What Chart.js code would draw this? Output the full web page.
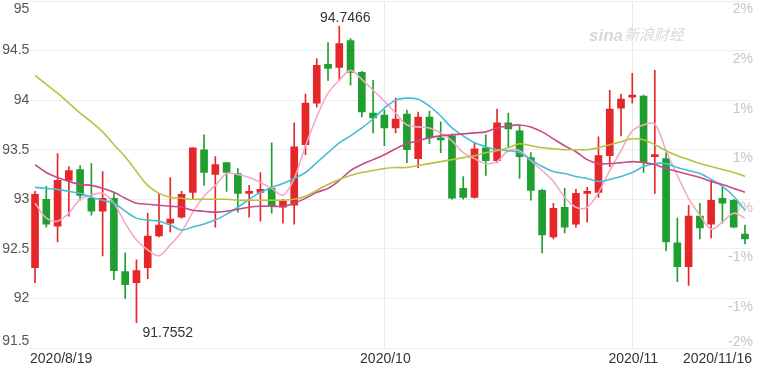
<!DOCTYPE html>
<html><head><meta charset="utf-8">
<script src="https://cdn.jsdelivr.net/npm/chart.js@4.4.1/dist/chart.umd.min.js"></script>
<style>html,body{margin:0;padding:0;background:#fff;overflow:hidden}#wrap{position:relative;width:760px;height:366px}</style>
</head><body><div id="wrap"><canvas id="c"></canvas></div>
<script>
const dates = ['2020/8/19','2020/8/20','2020/8/21','2020/8/24','2020/8/25','2020/8/26','2020/8/27','2020/8/28','2020/8/31',
'2020/9/1','2020/9/2','2020/9/3','2020/9/4','2020/9/7','2020/9/8','2020/9/9','2020/9/10','2020/9/11','2020/9/14','2020/9/15','2020/9/16','2020/9/17','2020/9/18','2020/9/21','2020/9/22','2020/9/23','2020/9/24','2020/9/25','2020/9/28','2020/9/29','2020/9/30',
'2020/10/1','2020/10/2','2020/10/5','2020/10/6','2020/10/7','2020/10/8','2020/10/9','2020/10/12','2020/10/13','2020/10/14','2020/10/15','2020/10/16','2020/10/19','2020/10/20','2020/10/21','2020/10/22','2020/10/23','2020/10/26','2020/10/27','2020/10/28','2020/10/29','2020/10/30',
'2020/11/2','2020/11/3','2020/11/4','2020/11/5','2020/11/6','2020/11/9','2020/11/10','2020/11/11','2020/11/12','2020/11/13','2020/11/16'];

const openV  = [92.31,93.00,92.73,93.19,93.30,93.01,92.88,93.01,92.27,92.16,92.31,92.63,92.76,92.82,93.07,93.50,93.25,93.37,93.26,93.06,93.07,93.11,92.92,92.94,93.55,93.97,94.36,94.33,94.60,94.28,93.87,93.85,93.72,93.86,93.41,93.83,93.62,93.64,93.11,93.02,93.52,93.39,93.77,93.69,93.42,93.09,92.62,92.92,92.75,93.06,93.07,93.44,93.92,94.03,94.04,93.43,93.41,92.56,92.32,92.83,92.75,93.01,92.99,92.65];
const highV  = [93.08,93.13,93.46,93.33,93.34,93.36,93.28,93.07,92.46,92.39,92.86,93.06,93.22,93.08,93.52,93.65,93.43,93.37,93.31,93.14,93.27,93.57,93.00,93.77,94.06,94.42,94.58,94.7466,94.62,94.29,94.20,93.90,94.02,93.90,93.88,93.89,93.78,93.66,93.23,93.57,93.65,93.91,93.87,93.74,93.47,93.10,92.96,93.11,93.10,93.12,93.63,94.10,94.06,94.27,94.05,94.30,93.47,92.81,92.94,92.96,93.20,93.12,93.00,92.74];
const lowV   = [92.16,92.72,92.57,92.83,92.99,92.84,92.43,92.19,92.00,91.7552,92.20,92.62,92.67,92.81,93.00,93.14,92.72,93.08,92.87,92.82,92.78,92.86,92.76,92.75,93.45,93.93,94.20,94.20,94.15,93.83,93.67,93.54,93.67,93.37,93.32,93.56,93.47,93.00,93.00,93.01,93.24,93.37,93.52,93.21,92.99,92.46,92.60,92.66,92.72,92.77,93.02,93.33,93.64,93.97,93.27,93.06,92.48,92.17,92.13,92.60,92.61,92.76,92.71,92.55];
const closeV = [93.05,92.75,93.19,93.29,93.04,92.88,93.01,92.28,92.14,92.28,92.63,92.74,92.80,93.05,93.52,93.27,93.35,93.27,93.06,93.08,93.10,92.93,92.98,93.53,93.97,94.35,94.32,94.57,94.28,93.88,93.82,93.72,93.81,93.50,93.83,93.62,93.60,93.01,93.02,93.51,93.39,93.77,93.71,93.43,93.09,92.64,92.91,92.72,93.06,93.08,93.44,93.91,94.01,94.04,93.37,93.44,92.57,92.32,92.83,92.71,92.99,92.96,92.72,92.60];

const ma5  = [92.96,92.81,92.78,92.86,93.00,93.04,93.06,92.96,92.76,92.59,92.49,92.43,92.54,92.67,92.87,93.03,93.14,93.26,93.25,93.22,93.17,93.11,93.04,93.21,93.54,93.83,94.07,94.20,94.30,94.21,94.10,93.99,93.87,93.75,93.73,93.72,93.67,93.59,93.47,93.41,93.36,93.38,93.49,93.49,93.39,93.29,93.18,93.02,92.92,92.92,93.07,93.29,93.49,93.69,93.75,93.76,93.49,93.24,93.01,92.84,92.70,92.77,92.86,92.81];
const ma10 = [93.12,93.11,93.10,93.08,93.06,93.02,92.99,92.96,92.88,92.81,92.79,92.78,92.74,92.69,92.72,92.75,92.79,92.85,92.92,93.00,93.07,93.12,93.16,93.21,93.27,93.37,93.47,93.57,93.64,93.72,93.81,93.92,94.00,94.02,94.01,93.94,93.84,93.72,93.64,93.57,93.53,93.50,93.49,93.47,93.40,93.33,93.28,93.26,93.23,93.21,93.18,93.20,93.23,93.27,93.33,93.36,93.36,93.32,93.29,93.26,93.20,93.13,93.03,92.89];
const ma20 = [93.35,93.27,93.22,93.18,93.15,93.14,93.11,93.07,93.01,92.96,92.95,92.94,92.93,92.92,92.89,92.88,92.87,92.88,92.90,92.92,92.93,92.93,92.93,92.96,93.01,93.07,93.11,93.19,93.29,93.35,93.40,93.45,93.51,93.56,93.59,93.62,93.64,93.65,93.66,93.67,93.68,93.72,93.74,93.75,93.73,93.68,93.61,93.54,93.48,93.40,93.36,93.36,93.37,93.38,93.37,93.35,93.31,93.28,93.25,93.22,93.18,93.15,93.11,93.07];
const ma30 = [94.25,94.16,94.07,93.97,93.87,93.78,93.68,93.55,93.43,93.28,93.14,93.06,93.02,93.01,93.00,93.00,93.00,93.00,92.99,92.99,92.99,92.99,92.99,93.00,93.03,93.09,93.15,93.20,93.24,93.27,93.29,93.31,93.32,93.32,93.34,93.36,93.38,93.40,93.42,93.44,93.47,93.49,93.52,93.56,93.54,93.52,93.51,93.50,93.50,93.50,93.52,93.55,93.58,93.61,93.60,93.55,93.49,93.44,93.40,93.36,93.33,93.30,93.27,93.23];

const yTicks = [95,94.5,94,93.5,93,92.5,92,91.5];
const leftTickLabels = ['95','94.5','94','93.5','93','92.5','92','91.5'];
const rightTickLabels = ['2%','2%','1%','1%','0%','-1%','-1%','-2%'];
const xTickDates = ['2020/8/19','2020/10/1','2020/11/2','2020/11/16'];
const xTickLabels = ['2020/8/19','2020/10','2020/11','2020/11/16'];
const maxLabel = '94.7466';
const minLabel = '91.7552';

const RED = '#e5272a', GREEN = '#1f9f2f';
const FONT = '"Liberation Sans", Arial, Helvetica, sans-serif';
const candleColors = closeV.map((c,i) => c >= openV[i] ? RED : GREEN);
const gridIdx = [dates.indexOf(xTickDates[1]), dates.indexOf(xTickDates[2])];

const textPlugin = {
  id: 'texts',
  beforeDatasetsDraw(chart) {
    const ctx = chart.ctx, y = chart.scales.y, ca = chart.chartArea;
    ctx.save();
    ctx.font = '14px ' + FONT;
    ctx.textBaseline = 'middle';
    ctx.textAlign = 'right';
    ctx.fillStyle = '#555';
    yTicks.forEach((v, i) => {
      let py = y.getPixelForValue(v);
      if (i === 0) py += 8.5; else if (i === yTicks.length - 1) py -= 7;
      ctx.fillText(leftTickLabels[i], ca.left, py);
    });
    ctx.fillStyle = '#c6c6c6';
    yTicks.forEach((v, i) => {
      let py = y.getPixelForValue(v);
      if (i === yTicks.length - 1) py -= 6; else py += 8.5;
      ctx.fillText(rightTickLabels[i], 753, py);
    });
    // watermark
    ctx.textAlign = 'left';
    ctx.textBaseline = 'alphabetic';
    ctx.fillStyle = '#d9d9d9';
    ctx.font = 'italic bold 17px ' + FONT;
    ctx.fillText('sina', 589, 41);
    ctx.font = 'italic 15px "Noto Sans CJK SC", sans-serif';
    ctx.fillText('新浪财经', 624, 40);
    ctx.restore();
  },
  afterDraw(chart) {
    const ctx = chart.ctx, x = chart.scales.x, y = chart.scales.y;
    ctx.save();
    ctx.font = '14px ' + FONT;
    ctx.fillStyle = '#333';
    ctx.textBaseline = 'alphabetic';
    xTickDates.forEach((d, k) => {
      const idx = dates.indexOf(d);
      const px = x.getPixelForValue(idx);
      if (k === 0) { ctx.textAlign = 'left'; ctx.fillText(xTickLabels[k], px - 5, 363); }
      else if (k === xTickDates.length - 1) { ctx.textAlign = 'right'; ctx.fillText(xTickLabels[k], px + 7, 363); }
      else { ctx.textAlign = 'center'; ctx.fillText(xTickLabels[k], px + 1, 363); }
    });
    const iMax = highV.indexOf(Math.max(...highV));
    const iMin = lowV.indexOf(Math.min(...lowV));
    ctx.textBaseline = 'middle';
    ctx.textAlign = 'center';
    ctx.fillText(maxLabel, x.getPixelForValue(iMax) + 6, y.getPixelForValue(highV[iMax]) - 8);
    ctx.textAlign = 'left';
    ctx.fillText(minLabel, x.getPixelForValue(iMin) + 6, y.getPixelForValue(lowV[iMin]) + 10);
    ctx.restore();
  }
};

const lineDs = (data, color, label) => ({
  type: 'line', label, data, borderColor: color, borderWidth: 1.6,
  pointRadius: 0, tension: 0.35, fill: false, order: 0
});

new Chart(document.getElementById('c'), {
  type: 'bar',
  data: {
    labels: dates,
    datasets: [
      lineDs(ma30, '#b9c23e', 'MA30'),
      lineDs(ma20, '#c9498b', 'MA20'),
      lineDs(ma10, '#49bcd6', 'MA10'),
      lineDs(ma5, '#f2abc4', 'MA5'),
      { type: 'bar', label: 'body', data: openV.map((o, i) => [o, closeV[i]]),
        backgroundColor: candleColors, barThickness: 7, minBarLength: 2, grouped: false, order: 1 },
      { type: 'bar', label: 'wick', data: lowV.map((l, i) => [l, highV[i]]),
        backgroundColor: candleColors, barThickness: 1, grouped: false, order: 2 }
    ]
  },
  options: {
    responsive: true, maintainAspectRatio: false, animation: false, devicePixelRatio: 1,
    layout: { autoPadding: false, padding: { left: 29.4, right: 9.4, top: 1, bottom: 18 } },
    plugins: { legend: { display: false }, tooltip: { enabled: false } },
    scales: {
      x: {
        type: 'category', offset: true,
        ticks: { display: false, autoSkip: false },
        grid: { offset: false, drawTicks: false,
          color: c => gridIdx.includes(c.index) ? '#e9e9e9' : 'rgba(0,0,0,0)' },
        border: { display: false }
      },
      y: {
        min: 91.5, max: 95,
        ticks: { display: false, stepSize: 0.5 },
        grid: { drawTicks: false, color: '#ededed' },
        border: { display: false }
      }
    }
  },
  plugins: [textPlugin]
});
</script></body></html>
